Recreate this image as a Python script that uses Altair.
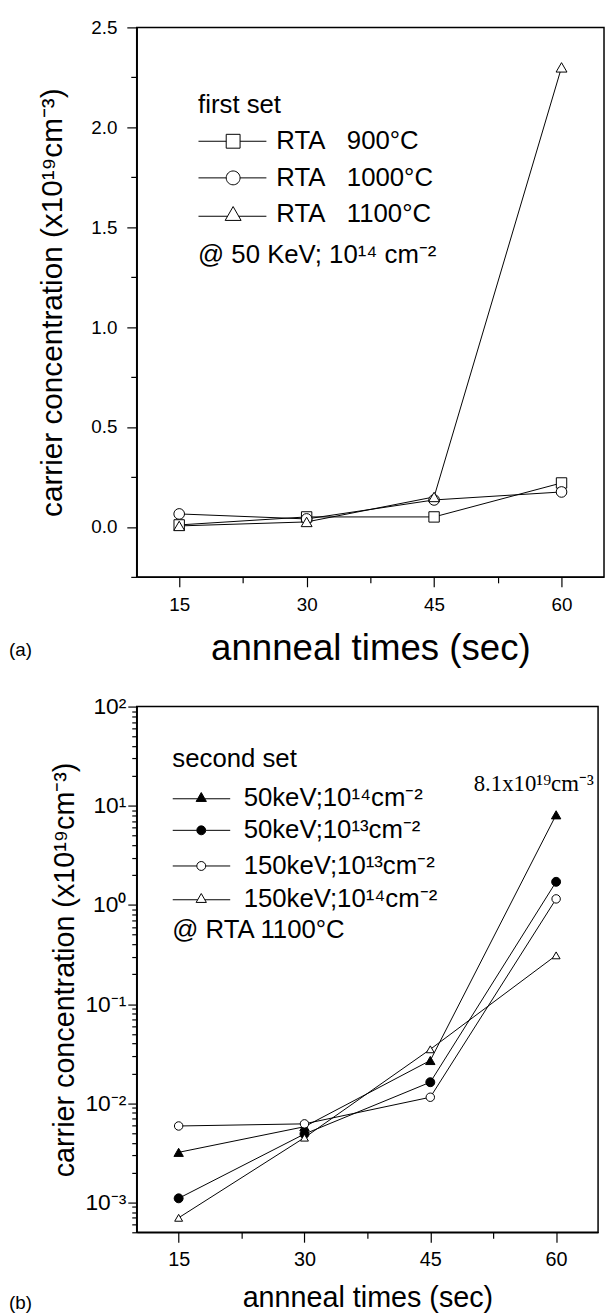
import altair as alt
import pandas as pd

FONT = "Liberation Sans"
SERIF = "Liberation Serif"

# ---------------- data ----------------
times = [15, 30, 45, 60]

a_series = ["RTA\u00a0\u00a0\u00a0900°C", "RTA\u00a0\u00a0\u00a01000°C", "RTA\u00a0\u00a0\u00a01100°C"]
a_900 = [0.01, 0.05, 0.05, 0.22]
a_1000 = [0.065, 0.04, 0.135, 0.175]
a_1100 = [0.005, 0.025, 0.15, 2.30]

b_series = ["50keV;10¹⁴cm⁻²", "50keV;10¹³cm⁻²", "150keV;10¹³cm⁻²", "150keV;10¹⁴cm⁻²"]
b_50_14 = [0.0032, 0.0058, 0.027, 8.1]
b_50_13 = [0.0011, 0.0049, 0.0163, 1.71]
b_150_13 = [0.0059, 0.0062, 0.0115, 1.15]
b_150_14 = [0.0007, 0.0045, 0.035, 0.31]

x_major = [15, 30, 45, 60]
x_minor = [22.5, 37.5, 52.5]
a_y_major = [0.0, 0.5, 1.0, 1.5, 2.0, 2.5]
a_y_minor = [-0.25, 0.25, 0.75, 1.25, 1.75, 2.25]
b_y_major = [0.001, 0.01, 0.1, 1, 10, 100]
b_y_labels = ["10⁻³", "10⁻²", "10⁻¹", "10⁰", "10¹", "10²"]
b_y_minor = [round(k * 10.0 ** e, 8) for e in range(-4, 2) for k in range(2, 10)
             if 5e-4 <= k * 10.0 ** e <= 100]

a_legend_title = "first set"
a_note = "@ 50 KeV; 10¹⁴ cm⁻²"
b_legend_title = "second set"
b_note = "@ RTA 1100°C"
b_peak = "8.1x10¹⁹cm⁻³"
y_title = "carrier concentration (x10¹⁹cm⁻³)"
x_title = "annneal times (sec)"

# ---------------- tables ----------------
dfa = pd.DataFrame({
    "time": times * 3,
    "value": a_900 + a_1000 + a_1100,
    "series": [s for s in a_series for _ in times],
})
dfb = pd.DataFrame({
    "time": times * 4,
    "value": b_50_14 + b_50_13 + b_150_13 + b_150_14,
    "series": [s for s in b_series for _ in times],
})
df_peak = pd.DataFrame({"time": [times[-1]], "value": [b_50_14[-1]], "t": [b_peak]})

W_A, H_A = 472, 555
W_B, H_B = 466, 531


def major_axis(values, orient, title, label_size, tick, lpad, title_size, tpad, fmt=None, label_expr=None):
    kw = dict(values=values, orient=orient, tickSize=tick, labelPadding=lpad,
              labelFont=FONT, labelFontSize=label_size, labelColor="black",
              tickColor="black", tickWidth=1.2, domainColor="black", domainWidth=1.5,
              grid=False, title=title, titleFont=FONT, titleFontSize=title_size,
              titleFontWeight="normal", titleColor="black", titlePadding=tpad,
              labelFlush=False, labelOverlap=False)
    if fmt:
        kw["format"] = fmt
    if label_expr:
        kw["labelExpr"] = label_expr
    return alt.Axis(**kw)


def minor_axis(values, orient, tick):
    return alt.Axis(values=values, orient=orient, tickSize=tick, labels=False, domain=False,
                    grid=False, title=None, tickColor="black", tickWidth=1.2)


def text_layer(txt, x, y, size, align="left", font=FONT):
    return alt.Chart(pd.DataFrame({"t": [txt]})).mark_text(
        align=align, baseline="middle", font=font, fontSize=size, color="black"
    ).encode(text="t:N", x=alt.value(x), y=alt.value(y))


def make_legend(title, x, y, size, label_offset, font_size, row_pad, title_pad):
    return alt.Legend(title=title, orient="none", legendX=x, legendY=y,
                      symbolSize=size, symbolStrokeWidth=1, symbolOpacity=1,
                      labelOffset=label_offset, labelFont=FONT, labelFontSize=font_size,
                      labelColor="black", labelLimit=0, rowPadding=row_pad,
                      titleFont=FONT, titleFontSize=font_size, titleFontWeight="normal",
                      titleColor="black", titlePadding=title_pad, titleLimit=0)


# ---------------- panel (a) ----------------
xa = alt.Scale(domain=[10, 65], nice=False, zero=False)
ya = alt.Scale(domain=[-0.25, 2.5], nice=False, zero=False)

lines_a = alt.Chart(dfa).mark_line(color="black", strokeWidth=1).encode(
    x=alt.X("time:Q", scale=xa, axis=major_axis(x_major, "bottom", x_title, 19, 10, 9, 37, 16)),
    y=alt.Y("value:Q", scale=ya, axis=major_axis(a_y_major, "left", y_title, 19, 10, 10, 30, 24, fmt=".1f")),
    detail="series:N",
)
points_a = alt.Chart(dfa).mark_point(filled=True, fill="white", stroke="black", strokeWidth=1, opacity=1).encode(
    x=alt.X("time:Q", scale=xa, axis=minor_axis(x_minor, "bottom", 6)),
    y=alt.Y("value:Q", scale=ya, axis=minor_axis(a_y_minor, "left", 6)),
    shape=alt.Shape("series:N", scale=alt.Scale(domain=a_series, range=["square", "circle", "triangle-up"]), legend=None),
    size=alt.Size("series:N", scale=alt.Scale(domain=a_series, range=[110, 121, 144]), legend=None),
)
a_paths = [
    "M-1.8,0L2.2,0M2.2,-1L4.2,-1L4.2,1L2.2,1ZM4.2,0L8.0,0",
    "M-1.8,0L2.2,0M2.2,0A1,1,0,1,1,4.2,0A1,1,0,1,1,2.2,0ZM4.2,0L8.0,0",
    "M-1.8,0.25L2.4,0.25M3.2,-1.15L4.35,0.85L2.05,0.85ZM4.0,0.25L8.0,0.25",
]
legend_a = alt.Chart(dfa).transform_filter("false").mark_point(
    filled=False, fill="white", stroke="black", strokeWidth=1, opacity=1, size=196
).encode(
    shape=alt.Shape("series:N", scale=alt.Scale(domain=a_series, range=a_paths),
                    legend=make_legend(a_legend_title, 62, 65, 196, 53, 26, 11, 11)),
)
note_a = text_layer(a_note, 62, 230, 26)
tag_a = text_layer("(a)", -129, H_A + 74, 19)

panel_a = alt.layer(lines_a, points_a, legend_a, note_a, tag_a).resolve_scale(
    shape="independent", size="independent"
).resolve_axis(x="independent", y="independent").properties(width=W_A, height=H_A)

# ---------------- panel (b) ----------------
xb = alt.Scale(domain=[10, 65], nice=False, zero=False)
yb = alt.Scale(type="log", domain=[5e-4, 100], nice=False)
b_expr = " : ".join(f"datum.value == {v} ? '{l}'" for v, l in zip(b_y_major, b_y_labels)) + " : ''"

lines_b = alt.Chart(dfb).mark_line(color="black", strokeWidth=1).encode(
    x=alt.X("time:Q", scale=xb, axis=major_axis(x_major, "bottom", x_title, 20, 10, 8, 29, 14)),
    y=alt.Y("value:Q", scale=yb, axis=major_axis(b_y_major, "left", y_title, 23, 9, 2, 29, 6, label_expr=b_expr)),
    detail="series:N",
)
points_b = alt.Chart(dfb).mark_point(filled=True, stroke="black", strokeWidth=1, opacity=1).encode(
    x=alt.X("time:Q", scale=xb, axis=minor_axis(x_minor, "bottom", 6)),
    y=alt.Y("value:Q", scale=yb, axis=minor_axis(b_y_minor, "left", 5)),
    shape=alt.Shape("series:N", scale=alt.Scale(domain=b_series, range=["triangle-up", "circle", "circle", "triangle-up"]), legend=None),
    size=alt.Size("series:N", scale=alt.Scale(domain=b_series, range=[90, 64, 64, 90]), legend=None),
    fill=alt.Fill("series:N", scale=alt.Scale(domain=b_series, range=["black", "black", "white", "white"]), legend=None),
)
tri_b = "M-2.8,0.25L2.8,0.25M3.6,-1.15L4.75,0.85L2.45,0.85ZM4.4,0.25L10.1,0.25"
cir_b = "M-2.8,0L2.6,0M2.6,0A1,1,0,1,1,4.6,0A1,1,0,1,1,2.6,0ZM4.6,0L10.1,0"

legend_b1 = alt.Chart(dfb).transform_filter("false").mark_point(
    filled=False, fill="black", stroke="black", strokeWidth=1, opacity=1, size=81
).encode(
    shape=alt.Shape("series:N", scale=alt.Scale(domain=b_series[:2], range=[tri_b, cir_b]),
                    legend=make_legend(b_legend_title, 36, 40, 81, 46, 26, 7, 13)),
)
legend_b2 = alt.Chart(dfb).transform_filter("false").mark_point(
    filled=False, fill="white", stroke="black", strokeWidth=1, opacity=1, size=81
).encode(
    shape=alt.Shape("series:N", scale=alt.Scale(domain=b_series[2:], range=[cir_b, tri_b]),
                    legend=make_legend(None, 36, 148, 81, 46, 26, 7, 13)),
)
peak_b = alt.Chart(df_peak).mark_text(
    align="right", baseline="middle", dx=38, dy=-31, font=SERIF, fontSize=23, color="black"
).encode(
    x=alt.X("time:Q", scale=xb, axis=None),
    y=alt.Y("value:Q", scale=yb, axis=None),
    text="t:N",
)
note_b = text_layer(b_note, 36, 226, 26)
tag_b = text_layer("(b)", -129, H_B + 71, 19)

panel_b = alt.layer(lines_b, points_b, legend_b1, legend_b2, peak_b, note_b, tag_b).resolve_scale(
    shape="independent", size="independent", fill="independent"
).resolve_axis(x="independent", y="independent").properties(width=W_B, height=H_B)

chart = alt.vconcat(panel_a, panel_b, spacing=28).properties(
    padding={"left": 0, "top": 3, "right": 0, "bottom": 0}
).configure_view(stroke="black", strokeWidth=1.5)

chart.save("out.html", embed_options={"renderer": "svg", "actions": False})
